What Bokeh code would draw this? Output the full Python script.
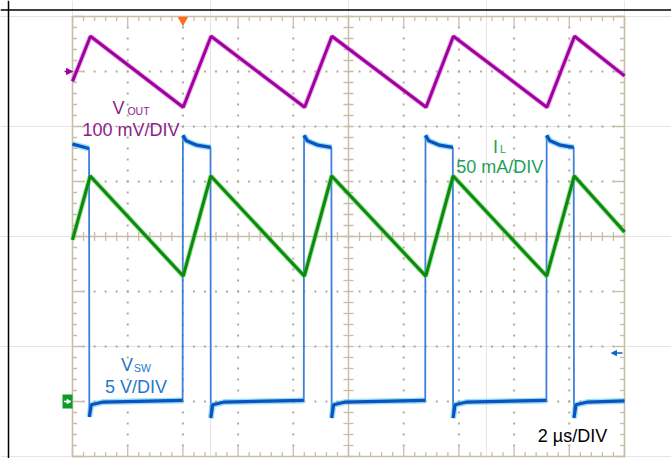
import numpy as np
from bokeh.plotting import figure
from bokeh.models import Range1d, Label, Arrow, NormalHead, Span
from bokeh.embed import file_html
from bokeh.resources import INLINE

# ---------------- data read from the scope capture ----------------
US_PER_DIV = 2.0            # time base: 2 us/DIV
N_XDIV, N_YDIV = 10, 8

# V_OUT ripple, 100 mV/DIV (mV)
vout_t = [0.00, 0.65, 4.01, 5.02, 8.41, 9.40, 12.81, 13.80, 17.19, 18.19, 20.00]
vout_mv = [-18, 64, -65, 64, -65, 64, -65, 64, -65, 64, -8]

# I_L, 50 mA/DIV (mA)
il_t = [0.00, 0.64, 4.01, 5.01, 8.40, 9.39, 12.80, 13.79, 17.18, 18.18, 20.00]
il_ma = [-3, 55, -36, 55, -36, 55, -36, 55, -36, 55, 4]

# V_SW, 5 V/DIV (V)
vsw_t = [0.00, 0.60, 0.61, 0.68, 1.10, 3.99, 4.00, 4.12, 4.50, 5.00, 5.01, 5.08, 5.50,
         8.38, 8.39, 8.51, 8.90, 9.38, 9.39, 9.46, 9.88, 12.78, 12.79, 12.91, 13.30,
         13.78, 13.79, 13.86, 14.28, 17.17, 17.18, 17.30, 17.68, 18.16, 18.17, 18.24,
         18.66, 20.00]
vsw_v = [23.4, 23.0, -1.4, -0.3, -0.05, 0.1, 24.2, 23.7, 23.3, 23.1, -1.5, -0.3, -0.05,
         0.1, 24.2, 23.7, 23.3, 23.1, -1.5, -0.3, -0.05, 0.1, 24.2, 23.7, 23.3,
         23.1, -1.5, -0.3, -0.05, 0.1, 24.2, 23.7, 23.3, 23.1, -1.5, -0.3,
         -0.05, 0.05]

# channel scales and screen positions (DIV from centre)
VOUT_PER_DIV, VOUT_POS = 100.0, 3.0
IL_PER_DIV, IL_POS = 50.0, 0.0
VSW_PER_DIV, VSW_POS = 5.0, -3.0
VSW_TRIG = 4.4          # trigger level, V
TRIG_T = 4.0            # trigger position, us

labels = [
    # text, t(us), div, size, colour
    ("V", 1.45, 2.345, "18px", "#8c1d8c"),
    ("OUT", 1.99, 2.282, "10.5px", "#8c1d8c"),
    ("100 mV/DIV", 0.36, 1.936, "18px", "#8c1d8c"),
    ("I", 15.24, 1.636, "18px", "#1ea05a"),
    ("L", 15.49, 1.582, "10.5px", "#1ea05a"),
    ("50 mA/DIV", 13.90, 1.264, "18px", "#1ea05a"),
    ("V", 1.76, -2.345, "18px", "#1f78c8"),
    ("SW", 2.23, -2.391, "10.5px", "#1f78c8"),
    ("5 V/DIV", 1.18, -2.736, "18px", "#1f78c8"),
    ("2 \u00b5s/DIV", 16.86, -3.636, "18px", "black"),
]

# ---------------- layout ----------------
W, H = 671, 458
GL, GT, GW, GH = 72, 16, 552, 440          # graticule box inside the canvas
T_END = N_XDIV * US_PER_DIV
sx = GW / T_END                            # px per us
sy = GH / N_YDIV                           # px per div
X0 = -GL / sx
X1 = T_END + (W - GL - GW) / sx
Y1 = N_YDIV / 2 + GT / sy
Y0 = -N_YDIV / 2 - (H - GT - GH) / sy

p = figure(width=W, height=H, x_range=Range1d(X0, X1), y_range=Range1d(Y0, Y1),
           output_backend="svg", toolbar_location=None, min_border=0,
           x_axis_location=None, y_axis_location=None)
p.outline_line_color = None
p.background_fill_color = "white"
p.border_fill_color = "white"


def chan_range(per_div, pos):
    return Range1d((Y0 - pos) * per_div, (Y1 - pos) * per_div)


p.extra_y_ranges = {
    "vout": chan_range(VOUT_PER_DIV, VOUT_POS),
    "il": chan_range(IL_PER_DIV, IL_POS),
    "vsw": chan_range(VSW_PER_DIV, VSW_POS),
}

# ---------------- graticule ----------------
TAN = "#c8bea8"
DOT = "#b2ab98"
hx = N_YDIV / 2
xt_minor = np.round(np.arange(0, T_END + 1e-6, US_PER_DIV / 5), 6)
xt_major = np.round(np.arange(0, T_END + 1e-6, US_PER_DIV), 6)
yt_minor = np.round(np.arange(-hx, hx + 1e-6, 0.2), 6)
yt_major = np.round(np.arange(-hx, hx + 1e-6, 1.0), 6)

# dotted division lines
gx, gy = [], []
for t in xt_major[1:-1]:
    if abs(t - T_END / 2) < 1e-6:
        continue
    for d in yt_minor[1:-1]:
        gx.append(t); gy.append(d)
for d in yt_major[1:-1]:
    if abs(d) < 1e-6:
        continue
    for t in xt_minor[1:-1]:
        gx.append(t); gy.append(d)
p.scatter(gx, gy, marker="square", size=2, fill_color=DOT, line_color=None)

# border
p.quad(left=[0], right=[T_END], bottom=[-hx], top=[hx], fill_color=None,
       line_color=TAN, line_width=1.6)
# centre cross
p.segment(x0=[T_END / 2, 0], y0=[-hx, 0], x1=[T_END / 2, T_END], y1=[hx, 0],
          line_color=TAN, line_width=1.4)

mn, mj = 4.5, 10.0
x0s, y0s, x1s, y1s = [], [], [], []
for t in xt_minor:
    L = (mj if t in xt_major else mn) / sy
    x0s += [t, t]; y0s += [hx, -hx]; x1s += [t, t]; y1s += [hx - L, -hx + L]
    c = 4.5 / sy
    x0s.append(t); y0s.append(-c); x1s.append(t); y1s.append(c)
for d in yt_minor:
    L = (mj if d in yt_major else mn) / sx
    x0s += [0, T_END]; y0s += [d, d]; x1s += [L, T_END - L]; y1s += [d, d]
    c = 5.0 / sx
    x0s.append(T_END / 2 - c); y0s.append(d); x1s.append(T_END / 2 + c); y1s.append(d)
p.segment(x0=x0s, y0=y0s, x1=x1s, y1=y1s, line_color=TAN, line_width=1.3)

# ---------------- traces ----------------
# V_SW: flat levels drawn as a thick noisy band, edges thin
runs_t, runs_v = [], []
cur_t, cur_v = [vsw_t[0]], [vsw_v[0]]
for i in range(1, len(vsw_t)):
    if vsw_t[i] - vsw_t[i - 1] < 0.015 and abs(vsw_v[i] - vsw_v[i - 1]) > 5:
        runs_t.append(cur_t); runs_v.append(cur_v)
        cur_t, cur_v = [], []
    cur_t.append(vsw_t[i]); cur_v.append(vsw_v[i])
runs_t.append(cur_t); runs_v.append(cur_v)

p.line(vsw_t, vsw_v, y_range_name="vsw", line_color="#3f7fdc", line_width=1.8)
p.multi_line(runs_t, runs_v, y_range_name="vsw", line_color="#35bfe6",
             line_width=6, line_alpha=0.5)
p.multi_line(runs_t, runs_v, y_range_name="vsw", line_color="#0b52c2",
             line_width=3.2)

p.line(il_t, il_ma, y_range_name="il", line_color="#3cc23c", line_width=5, line_alpha=0.5)
p.line(il_t, il_ma, y_range_name="il", line_color="#0c8a0c", line_width=3)

p.line(vout_t, vout_mv, y_range_name="vout", line_color="#cf5fcf", line_width=5,
       line_alpha=0.5)
p.line(vout_t, vout_mv, y_range_name="vout", line_color="#a000a0", line_width=3)

# ---------------- markers ----------------
p.add_layout(Arrow(end=NormalHead(size=6, fill_color="#a000a0", line_color="#a000a0"),
                   x_start=-8 / sx, y_start=VOUT_POS, x_end=0, y_end=VOUT_POS,
                   line_color="#a000a0", line_width=1.5))
p.rect(x=[-5 / sx], y=[VSW_POS], width=10, height=14, width_units="screen",
       height_units="screen", fill_color="#109a2a", line_color=None)
p.add_layout(Arrow(end=NormalHead(size=4, fill_color="white", line_color="white"),
                   x_start=-8.5 / sx, y_start=VSW_POS, x_end=-1.5 / sx, y_end=VSW_POS,
                   line_color="white", line_width=1.3))
ytrig = VSW_POS + VSW_TRIG / VSW_PER_DIV
p.add_layout(Arrow(end=NormalHead(size=5, fill_color="#1060c0", line_color="#1060c0"),
                   x_start=T_END - 2 / sx, y_start=ytrig, x_end=T_END - 13 / sx,
                   y_end=ytrig, line_color="#1060c0", line_width=1.5))
p.scatter([TRIG_T], [hx - 3.5 / sy], marker="inverted_triangle", size=9,
          fill_color="#ff6a13", line_color="#ff6a13")

# frame lines of the page
p.add_layout(Span(location=X0 + 8 / sx, dimension="height", line_color="black",
                  line_width=1.5))
p.add_layout(Span(location=Y1 - 9.5 / sy, dimension="width", line_color="black",
                  line_width=1.5))

for txt, t, d, fs, col in labels:
    p.add_layout(Label(x=t, y=d, text=txt, text_font="Liberation Sans",
                       text_font_size=fs, text_color=col, text_baseline="alphabetic",
                       text_align="left"))

open("out.html", "w").write(file_html(p, INLINE))
